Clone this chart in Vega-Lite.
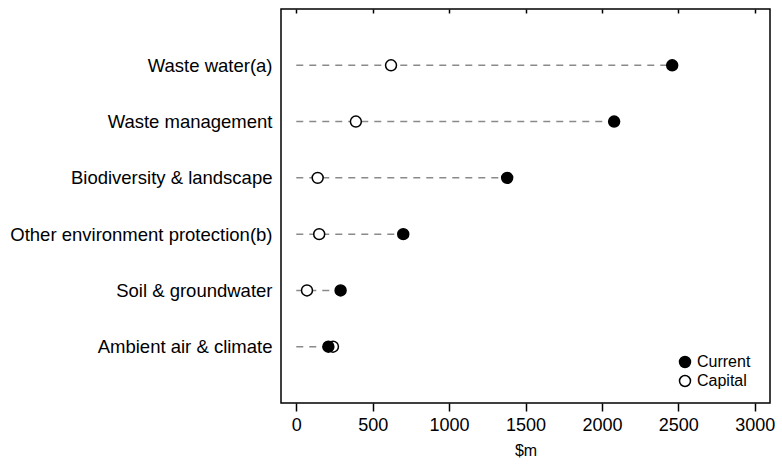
{
  "$schema": "https://vega.github.io/schema/vega-lite/v6.json",
  "width": 489,
  "height": 394,
  "autosize": "none",
  "padding": {"left": 281, "top": 9, "right": 12, "bottom": 61},
  "background": "white",
  "config": {
    "font": "Liberation Sans",
    "view": {"stroke": "black", "strokeWidth": 1.5}
  },
  "data": {
    "values": [
      {"category": "Waste water(a)", "type": "Capital", "value": 620},
      {"category": "Waste management", "type": "Capital", "value": 390},
      {"category": "Biodiversity & landscape", "type": "Capital", "value": 140},
      {"category": "Other environment protection(b)", "type": "Capital", "value": 150},
      {"category": "Soil & groundwater", "type": "Capital", "value": 70},
      {"category": "Ambient air & climate", "type": "Capital", "value": 240},
      {"category": "Waste water(a)", "type": "Current", "value": 2460},
      {"category": "Waste management", "type": "Current", "value": 2080},
      {"category": "Biodiversity & landscape", "type": "Current", "value": 1380},
      {"category": "Other environment protection(b)", "type": "Current", "value": 700},
      {"category": "Soil & groundwater", "type": "Current", "value": 290},
      {"category": "Ambient air & climate", "type": "Current", "value": 210}
    ]
  },
  "resolve": {"axis": {"x": "independent"}},
  "layer": [
    {
      "transform": [
        {"aggregate": [{"op": "max", "field": "value", "as": "maxv"}], "groupby": ["category"]}
      ],
      "mark": {"type": "rule", "color": "#8a8a8a", "strokeWidth": 1.5, "strokeDash": [7, 6]},
      "encoding": {
        "y": {
          "field": "category", "type": "nominal",
          "sort": ["Waste water(a)", "Waste management", "Biodiversity & landscape", "Other environment protection(b)", "Soil & groundwater", "Ambient air & climate"],
          "scale": {"type": "point", "padding": 1.05},
          "axis": {"title": null, "ticks": false, "domain": false, "labelFontSize": 18.5, "labelPadding": 9, "labelColor": "black", "labelLimit": 400}
        },
        "x": {
          "datum": 0, "type": "quantitative",
          "scale": {"domain": [-100, 3100], "nice": false, "zero": false},
          "axis": {"orient": "top", "labels": false, "title": null, "domain": false, "grid": false, "tickSize": -4, "tickColor": "black", "tickWidth": 1.5, "values": [0, 500, 1000, 1500, 2000, 2500, 3000]}
        },
        "x2": {"field": "maxv", "type": "quantitative"}
      }
    },
    {
      "mark": {"type": "point", "shape": "circle", "filled": true, "size": 120, "stroke": "black", "strokeWidth": 1.5, "opacity": 1},
      "encoding": {
        "y": {"field": "category", "type": "nominal", "sort": ["Waste water(a)", "Waste management", "Biodiversity & landscape", "Other environment protection(b)", "Soil & groundwater", "Ambient air & climate"]},
        "x": {
          "field": "value", "type": "quantitative",
          "axis": {"orient": "bottom", "title": "$m", "format": "d", "titleFontSize": 16, "titleFontWeight": "normal", "titleColor": "black", "titlePadding": 8, "labelFontSize": 18, "labelColor": "black", "labelPadding": 5, "domain": false, "grid": false, "tickSize": 8, "tickColor": "black", "tickWidth": 1.5, "values": [0, 500, 1000, 1500, 2000, 2500, 3000]}
        },
        "fill": {
          "field": "type", "type": "nominal",
          "scale": {"domain": ["Current", "Capital"], "range": ["black", "white"]},
          "legend": {"title": null, "orient": "none", "legendX": 396, "legendY": 345, "labelFontSize": 16, "labelColor": "black", "symbolStrokeColor": "black", "symbolStrokeWidth": 1.5, "symbolSize": 120, "rowPadding": 1, "labelOffset": 4, "symbolOpacity": 1}
        }
      }
    }
  ]
}
